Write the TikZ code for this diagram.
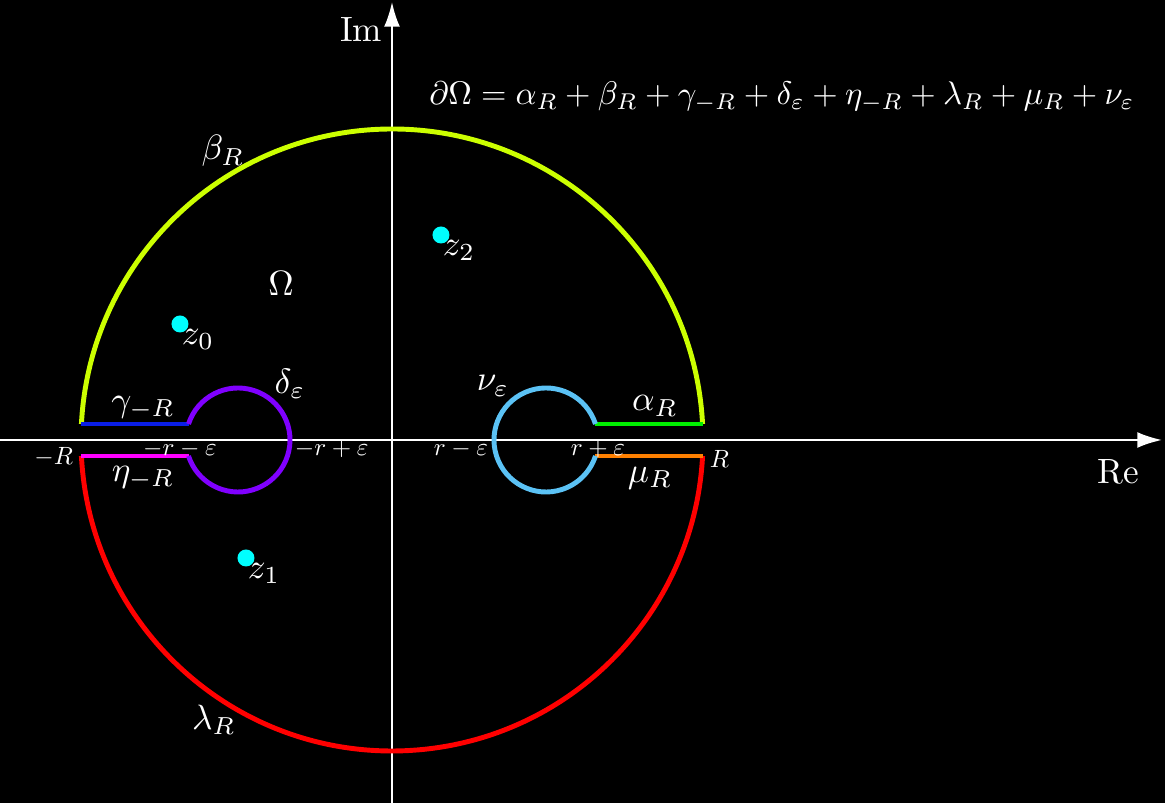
\documentclass[tikz,border=0pt]{standalone}
\usepackage{amsmath,amssymb}
\usetikzlibrary{positioning,arrows.meta}

\definecolor{cbeta}{HTML}{CCFF00}
\definecolor{calpha}{HTML}{00F000}
\definecolor{cgamma}{HTML}{0A1EE6}
\definecolor{ceta}{HTML}{FF00FF}
\definecolor{cdelta}{HTML}{8000FF}
\definecolor{cnu}{HTML}{5BC2F5}
\definecolor{cmu}{HTML}{FF8000}
\definecolor{clambda}{HTML}{FF0000}
\definecolor{cpoint}{HTML}{00FFFF}

\tikzset{
  contour/.style={line width=1.4pt},
  axis/.style={white, line width=0.6pt, -{Latex[length=7pt,width=4.5pt]}},
  tick label/.style={white, scale=0.71, transform shape, inner sep=1pt},
  pole/.style={circle, fill=cpoint, inner sep=0pt, minimum size=0.17cm},
}

\begin{document}
\begin{tikzpicture}[x=1cm, y=1cm, text=white]
  \def\bigR{3.11}
  \def\smr{1.54}
  \def\eps{0.52}
  \def\gap{0.16}
  \pgfmathsetmacro{\aa}{asin(\gap/\bigR)}
  \pgfmathsetmacro{\bb}{asin(\gap/\eps)}
  \pgfmathsetmacro{\xR}{\bigR*cos(\aa)}
  \pgfmathsetmacro{\xe}{\smr+\eps*cos(\bb)}
  \fill[black] (-3.92,-3.63) rectangle (7.73,4.40);
  \useasboundingbox (-3.92,-3.63) rectangle (7.73,4.40);
  % axes
  \draw[axis] (-3.92,0) -- (7.70,0) coordinate (reend);
  \draw[axis] (0,-3.63) -- (0,4.38) coordinate (imend);
  \node (re) at (7.26,-0.32) {Re};
  \node (im) at (-0.31,4.10) {Im};
  % contour
  \draw[contour, cbeta]   (\xR,\gap) arc[start angle=\aa, end angle=180-\aa, radius=\bigR];
  \draw[contour, clambda] (-\xR,-\gap) arc[start angle=180+\aa, end angle=360-\aa, radius=\bigR];
  \draw[contour, calpha]  (\xe,\gap) -- (\xR,\gap);
  \draw[contour, cmu]     (\xe,-\gap) -- (\xR,-\gap);
  \draw[contour, cgamma]  (-\xR,\gap) -- (-\xe,\gap);
  \draw[contour, ceta]    (-\xR,-\gap) -- (-\xe,-\gap);
  \draw[contour, cdelta]  (-\xe,\gap) arc[start angle=180-\bb, end angle=-180+\bb, radius=\eps];
  \draw[contour, cnu]     (\xe,\gap) arc[start angle=\bb, end angle=360-\bb, radius=\eps];
  % labels of the pieces
  \node (alpha) at (2.63,0.34) {$\alpha_R$};
  \node (beta) at (-1.69,2.89) {$\beta_R$};
  \node (gamma) at (-2.49,0.32) {$\gamma_{-R}$};
  \node (delta) at (-1.02,0.56) {$\delta_\varepsilon$};
  \node (eta) at (-2.49,-0.38) {$\eta_{-R}$};
  \node (lambda) at (-1.78,-2.80) {$\lambda_R$};
  \node (mu) at (2.58,-0.38) {$\mu_R$};
  \node (nu) at (1.01,0.54) {$\nu_\varepsilon$};
  \node (omega) at (-1.11,1.56) {$\Omega$};
  \node[scale=0.93, transform shape] (boundary) at (3.90,3.43) {$\partial\Omega=\alpha_R+\beta_R+\gamma_{-R}+\delta_\varepsilon+\eta_{-R}+\lambda_R+\mu_R+\nu_\varepsilon$};
  % ticks on the real axis
  \node[tick label, anchor=east] (mR) at (-3.16,-0.17) {$-R$};
  \node[tick label] (mrme) at (-2.12,-0.09) {$-r-\varepsilon$};
  \node[tick label, anchor=west] (mrpe) at (-1.00,-0.09) {$-r+\varepsilon$};
  \node[tick label, anchor=east] (rme) at (0.99,-0.09) {$r-\varepsilon$};
  \node[tick label] (rpe) at (2.06,-0.09) {$r+\varepsilon$};
  \node[tick label, anchor=west] (pR) at (3.15,-0.19) {$R$};
  % points
  \node[pole] (p0) at (-2.12,1.16) {};
  \node[pole] (p1) at (-1.46,-1.18) {};
  \node[pole] (p2) at (0.49,2.05) {};
  \node[anchor=north west, inner sep=0pt] (z0) at ([xshift=-1.5pt,yshift=0.5pt]p0.south east) {$z_0$};
  \node[anchor=north west, inner sep=0pt] (z1) at ([xshift=-1.5pt,yshift=0.5pt]p1.south east) {$z_1$};
  \node[anchor=north west, inner sep=0pt] (z2) at ([xshift=-1.5pt,yshift=0.5pt]p2.south east) {$z_2$};
\end{tikzpicture}
\end{document}
